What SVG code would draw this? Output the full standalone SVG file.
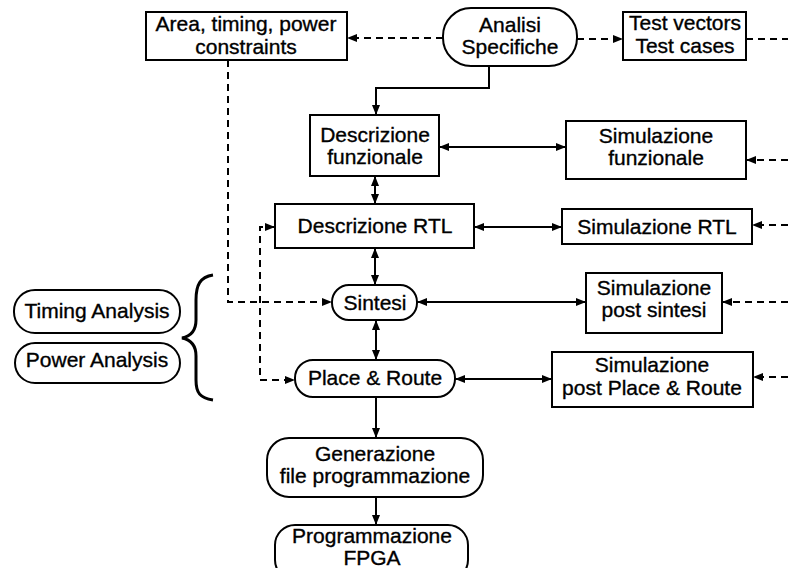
<svg xmlns="http://www.w3.org/2000/svg" width="788" height="568" viewBox="0 0 788 568">
<defs>
<marker id="ah" viewBox="0 0 10 8" refX="10" refY="4" markerWidth="10" markerHeight="8" markerUnits="userSpaceOnUse" orient="auto-start-reverse">
<path d="M0,0 L10,4 L0,8 Z" fill="#000"/>
</marker>
<style>
.box{fill:#fff;stroke:#000;stroke-width:2}
.t{font-family:"Liberation Sans",Arial,sans-serif;font-size:21px;fill:#000;stroke:#000;stroke-width:0.35;text-anchor:middle}
.c{fill:none;stroke:#000;stroke-width:2}
.d{fill:none;stroke:#000;stroke-width:2;stroke-dasharray:7 5}
</style>
</defs>
<rect width="788" height="568" fill="#fff"/>
<g id="connectors">
<path class="d" d="M443,38 H347" marker-end="url(#ah)"/>
<path class="d" d="M577,39 H623" marker-end="url(#ah)"/>
<path class="d" d="M746,39 H788"/>
<path class="c" d="M489,66 V88 H376 V115" marker-end="url(#ah)"/>
<path class="c" d="M375,176 V204" marker-start="url(#ah)" marker-end="url(#ah)"/>
<path class="c" d="M439,147 H566" marker-start="url(#ah)" marker-end="url(#ah)"/>
<path class="d" d="M788,160 H746" marker-end="url(#ah)"/>
<path class="c" d="M474,227 H562" marker-start="url(#ah)" marker-end="url(#ah)"/>
<path class="d" d="M788,225 H752" marker-end="url(#ah)"/>
<path class="c" d="M375,248 V285" marker-start="url(#ah)" marker-end="url(#ah)"/>
<path class="d" d="M228,60 V302 H332" marker-end="url(#ah)"/>
<path class="d" d="M275,227 H260 V380 H295" marker-start="url(#ah)" marker-end="url(#ah)"/>
<path class="c" d="M417,302 H586" marker-start="url(#ah)" marker-end="url(#ah)"/>
<path class="d" d="M788,302 H722" marker-end="url(#ah)"/>
<path class="c" d="M376,320 V360" marker-start="url(#ah)" marker-end="url(#ah)"/>
<path class="c" d="M455,379 H552" marker-start="url(#ah)" marker-end="url(#ah)"/>
<path class="d" d="M788,377 H753" marker-end="url(#ah)"/>
<path class="c" d="M376,397 V438" marker-end="url(#ah)"/>
<path class="c" d="M376,497 V525" marker-end="url(#ah)"/>
</g>
<g id="area">
<rect class="box" x="146" y="12" width="201" height="48"/>
<text class="t" x="246" y="31">Area, timing, power</text>
<text class="t" x="246" y="54">constraints</text>
</g>
<g id="analisi">
<rect class="box" x="443" y="8" width="134" height="58" rx="28"/>
<text class="t" x="510" y="32">Analisi</text>
<text class="t" x="510" y="54">Specifiche</text>
</g>
<g id="testvectors">
<rect class="box" x="623" y="12" width="123" height="48"/>
<text class="t" x="685" y="30">Test vectors</text>
<text class="t" x="685" y="53">Test cases</text>
</g>
<g id="descfunz">
<rect class="box" x="310" y="115" width="129" height="61"/>
<text class="t" x="375" y="142">Descrizione</text>
<text class="t" x="375" y="164">funzionale</text>
</g>
<g id="simfunz">
<rect class="box" x="566" y="121" width="180" height="58"/>
<text class="t" x="656" y="143">Simulazione</text>
<text class="t" x="656" y="165">funzionale</text>
</g>
<g id="descrtl">
<rect class="box" x="275" y="204" width="199" height="44"/>
<text class="t" x="375" y="233">Descrizione RTL</text>
</g>
<g id="simrtl">
<rect class="box" x="562" y="209" width="190" height="35"/>
<text class="t" x="657" y="234">Simulazione RTL</text>
</g>
<g id="sintesi">
<rect class="box" x="332" y="285" width="85" height="35" rx="17"/>
<text class="t" x="375" y="310">Sintesi</text>
</g>
<g id="simpostsintesi">
<rect class="box" x="586" y="273" width="136" height="60"/>
<text class="t" x="654" y="295">Simulazione</text>
<text class="t" x="654" y="317">post sintesi</text>
</g>
<g id="placeroute">
<rect class="box" x="295" y="360" width="160" height="37" rx="18"/>
<text class="t" x="375" y="385">Place &amp; Route</text>
</g>
<g id="simpostpr">
<rect class="box" x="552" y="352" width="201" height="55"/>
<text class="t" x="652" y="372">Simulazione</text>
<text class="t" x="652" y="395">post Place &amp; Route</text>
</g>
<g id="generazione">
<rect class="box" x="267" y="438" width="216" height="59" rx="22"/>
<text class="t" x="375" y="461">Generazione</text>
<text class="t" x="375" y="483">file programmazione</text>
</g>
<g id="programmazione">
<rect class="box" x="275" y="525" width="193" height="55" rx="20"/>
<text class="t" x="372" y="543">Programmazione</text>
<text class="t" x="372" y="565">FPGA</text>
</g>
<g id="timing">
<rect class="box" x="14" y="290" width="166" height="43" rx="21"/>
<text class="t" x="97" y="318">Timing Analysis</text>
</g>
<g id="power">
<rect class="box" x="15" y="343" width="165" height="40" rx="20"/>
<text class="t" x="97" y="367">Power Analysis</text>
</g>
<g id="brace">
<path d="M213,275 C200,277 196,285 196,300 L196,320 C196,330 192,336 182,338 C192,340 196,346 196,356 L196,380 C196,393 200,398 213,400" fill="none" stroke="#000" stroke-width="3"/>
</g>
</svg>
